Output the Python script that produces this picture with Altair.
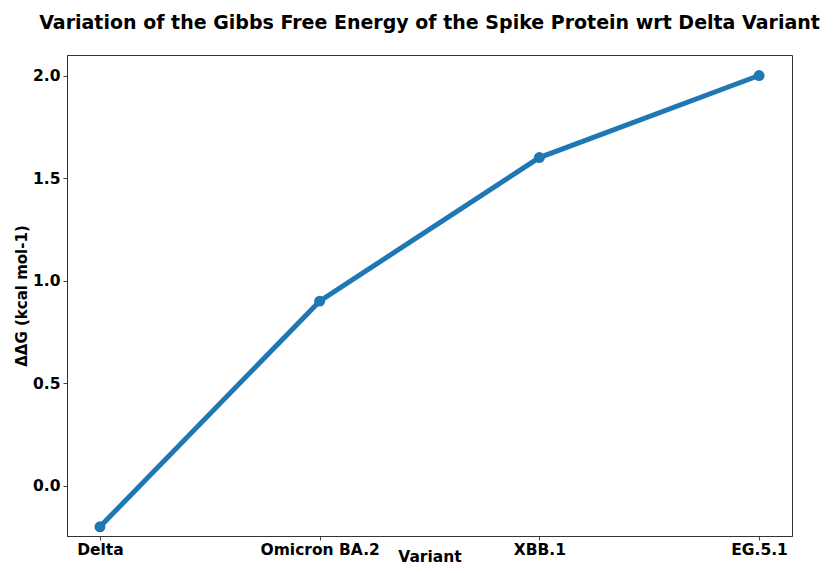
import altair as alt
import pandas as pd

variants = ["Delta", "Omicron BA.2", "XBB.1", "EG.5.1"]
ddg = [-0.2, 0.9, 1.6, 2.0]

df = pd.DataFrame({"Variant": variants, "ddG": ddg})

FONT = "DejaVu Sans"
BLUE = "#1f77b4"
FRAME = "#333333"

base = alt.Chart(df).encode(
    x=alt.X(
        "Variant:N",
        sort=variants,
        scale=alt.Scale(type="point", padding=0.15),
        axis=alt.Axis(
            title="Variant",
            labelAngle=0,
            labelFont=FONT,
            labelFontSize=15.5,
            labelFontWeight="bold",
            labelColor="black",
            labelPadding=2,
            titleFont=FONT,
            titleFontSize=15.5,
            titleFontWeight="bold",
            titleColor="black",
            titleY=25,
            titleBaseline="alphabetic",
            tickSize=4,
            tickColor="#444",
            domain=True,
            domainColor=FRAME,
            grid=False,
        ),
    ),
    y=alt.Y(
        "ddG:Q",
        scale=alt.Scale(domain=[-0.245, 2.1], nice=False, zero=False),
        axis=alt.Axis(
            title="ΔΔG (kcal mol-1)",
            values=[0.0, 0.5, 1.0, 1.5, 2.0],
            format=".1f",
            labelFont=FONT,
            labelFontSize=15.5,
            labelFontWeight="bold",
            labelColor="black",
            labelPadding=3,
            titleFont=FONT,
            titleFontSize=15,
            titleFontWeight="bold",
            titleColor="black",
            titlePadding=3,
            tickSize=4,
            tickColor="#444",
            domain=True,
            domainColor=FRAME,
            grid=False,
        ),
    ),
)

line = base.mark_line(color=BLUE, strokeWidth=5)
pts = base.mark_circle(color=BLUE, size=120, opacity=1)

chart = (
    alt.layer(line, pts)
    .properties(
        width=725,
        height=481,
        view=alt.ViewBackground(stroke=FRAME, strokeWidth=1),
        title=alt.TitleParams(
            "Variation of the Gibbs Free Energy of the Spike Protein wrt Delta Variant",
            font=FONT,
            fontSize=19,
            fontWeight="bold",
            color="black",
            anchor="middle",
            offset=22,
        ),
        autosize=alt.AutoSizeParams(type="none"),
        padding={"left": 59, "top": 47, "right": 39, "bottom": 29},
    )
    .configure_view(stroke=FRAME, strokeWidth=1)
    .configure(background="white")
)

chart.save("out.html", embed_options={"renderer": "svg", "actions": False})
